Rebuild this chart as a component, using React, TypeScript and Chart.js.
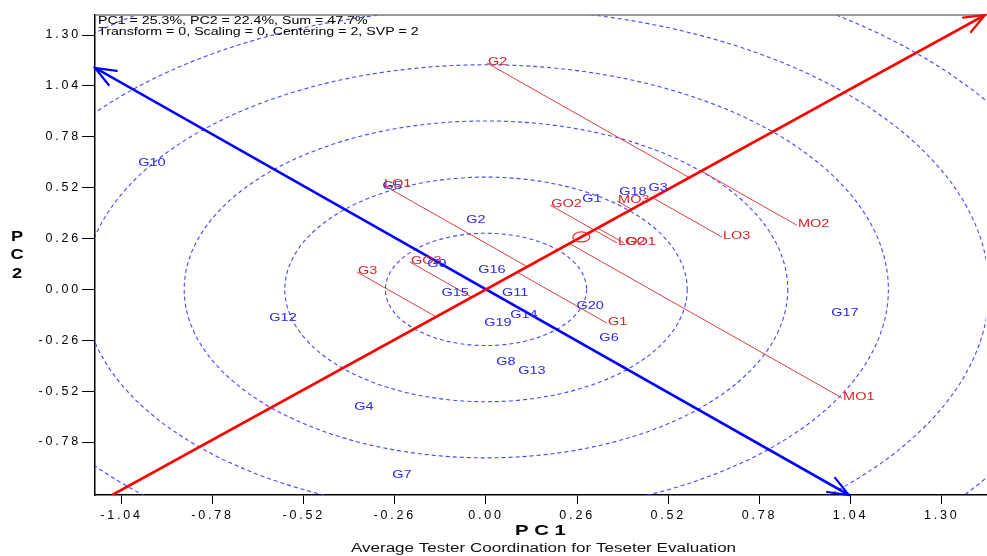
import React, { useEffect, useRef } from "react";
import { Chart, registerables } from "chart.js";

Chart.register(...registerables);

// ---------- data ----------
const xTicks = [-1.04, -0.78, -0.52, -0.26, 0, 0.26, 0.52, 0.78, 1.04, 1.3];
const yTicks = [-0.78, -0.52, -0.26, 0, 0.26, 0.52, 0.78, 1.04, 1.3];
const xRange = [-1.1155, 1.4265];
const yRange = [-1.0507, 1.4024];

const genotypeNames = [
  "G1", "G2", "G3", "G4", "G5", "G6", "G7", "G8", "G9", "G10",
  "G11", "G12", "G13", "G14", "G15", "G16", "G17", "G18", "G19", "G20",
];
const genotypePC1 = [
  0.302, -0.029, 0.491, -0.348, -0.268, 0.351, -0.24, 0.057, -0.14, -0.953,
  0.083, -0.579, 0.131, 0.108, -0.088, 0.017, 1.024, 0.419, 0.034, 0.297,
];
const genotypePC2 = [
  0.462, 0.355, 0.518, -0.601, 0.528, -0.248, -0.948, -0.371, 0.13, 0.646,
  -0.018, -0.146, -0.417, -0.131, -0.018, 0.099, -0.121, 0.498, -0.172, -0.085,
];

const testerNames = ["G2", "LO1", "GO2", "MO3", "LO3", "MO2", "LO2", "GO1", "MO1", "G1", "G3", "GO3"];
const testerPC1 = [0.003, -0.294, 0.183, 0.374, 0.673, 0.887, 0.374, 0.394, 1.016, 0.345, -0.368, -0.217];
const testerPC2 = [1.157, 0.534, 0.431, 0.452, 0.268, 0.328, 0.237, 0.237, -0.555, -0.172, 0.089, 0.14];

const averageTester = [0.272, 0.268];
const ringStep = 0.287;
const ringCount = 7;

const infoLines = [
  "PC1 = 25.3%, PC2 = 22.4%, Sum = 47.7%",
  "Transform = 0, Scaling = 0, Centering = 2, SVP = 2",
];
const xTitle = "P C 1";
const yTitle = "PC2";
const subtitle = "Average Tester Coordination for Teseter Evaluation";

// ---------- styles ----------
const FONT = '"Liberation Sans", Arial, sans-serif';
const RED = "#ff0000";
const BLUE = "#0000ff";
const LABEL_RED = "#d42626";
const LABEL_BLUE = "#2a2ae8";

// ---------- helpers ----------
function project(x: number, y: number) {
  const [ax, ay] = averageTester;
  const d = (x * ax + y * ay) / (ax * ax + ay * ay);
  return { x: d * ax, y: d * ay };
}

function rayLength(dx: number, dy: number) {
  let t = Infinity;
  if (dx > 0) t = Math.min(t, xRange[1] / dx);
  if (dx < 0) t = Math.min(t, xRange[0] / dx);
  if (dy > 0) t = Math.min(t, yRange[1] / dy);
  if (dy < 0) t = Math.min(t, yRange[0] / dy);
  return t;
}

function drawText(
  ctx: CanvasRenderingContext2D,
  text: string,
  x: number,
  y: number,
  font: string,
  color: string,
  align: "left" | "center" | "right",
  sx: number
) {
  ctx.save();
  (ctx as any).letterSpacing = "0px";
  ctx.font = font;
  ctx.fillStyle = color;
  ctx.textBaseline = "middle";
  ctx.textAlign = "left";
  const w = ctx.measureText(text).width * sx;
  const left = align === "left" ? x : align === "center" ? x - w / 2 : x - w;
  ctx.translate(left, y);
  ctx.scale(sx, 1);
  ctx.fillText(text, 0, 0);
  ctx.restore();
}

function arrowHead(
  ctx: CanvasRenderingContext2D,
  tip: { x: number; y: number },
  from: { x: number; y: number },
  color: string
) {
  const ang = Math.atan2(tip.y - from.y, tip.x - from.x);
  const len = 22;
  const spread = 0.38;
  ctx.save();
  ctx.strokeStyle = color;
  ctx.lineWidth = 2.2;
  ctx.lineCap = "round";
  ctx.beginPath();
  ctx.moveTo(tip.x - len * Math.cos(ang - spread), tip.y - len * Math.sin(ang - spread));
  ctx.lineTo(tip.x, tip.y);
  ctx.lineTo(tip.x - len * Math.cos(ang + spread), tip.y - len * Math.sin(ang + spread));
  ctx.stroke();
  ctx.restore();
}

// ---------- datasets ----------
const [ax, ay] = averageTester;
const ataPos = rayLength(ax, ay);
const ataNeg = rayLength(-ax, -ay);
const ataLine = [
  { x: -ataNeg * ax, y: -ataNeg * ay },
  { x: ataPos * ax, y: ataPos * ay },
];
const perpNeg = rayLength(-ay, ax);
const perpPos = rayLength(ay, -ax);
const perpLine = [
  { x: -perpNeg * ay, y: perpNeg * ax },
  { x: perpPos * ay, y: -perpPos * ax },
];

const IDX_GENO = 0;
const IDX_TESTER = 1;
const IDX_AVG = 2;
const IDX_ATA = 3;
const IDX_PERP = 4;

function buildDatasets() {
  const base: any[] = [
    {
      label: "Genotypes",
      data: genotypeNames.map((_, i) => ({ x: genotypePC1[i], y: genotypePC2[i] })),
      pointRadius: 0,
      order: 0,
    },
    {
      label: "Testers",
      data: testerNames.map((_, i) => ({ x: testerPC1[i], y: testerPC2[i] })),
      pointRadius: 0,
      order: 0,
    },
    {
      label: "Average tester",
      data: [{ x: averageTester[0], y: averageTester[1] }],
      pointRadius: 0,
      order: 0,
    },
    {
      label: "ATA",
      data: ataLine,
      showLine: true,
      borderColor: RED,
      borderWidth: 2.6,
      pointRadius: 0,
      order: 1,
    },
    {
      label: "ATA perpendicular",
      data: perpLine,
      showLine: true,
      borderColor: BLUE,
      borderWidth: 2.6,
      pointRadius: 0,
      order: 1,
    },
  ];
  const projections = testerNames.map((n, i) => ({
    label: "proj " + n,
    data: [{ x: testerPC1[i], y: testerPC2[i] }, project(testerPC1[i], testerPC2[i])],
    showLine: true,
    borderColor: "rgba(214,52,52,0.95)",
    borderWidth: 1,
    pointRadius: 0,
    order: 3,
  }));
  return [...base, ...projections];
}

// ---------- plugin ----------
const biplotPlugin = {
  id: "biplotDecor",
  beforeDraw(chart: any) {
    (chart.ctx as any).letterSpacing = "2.8px";
  },
  beforeDatasetsDraw(chart: any) {
    const { ctx, chartArea } = chart;
    const xs = chart.scales.x;
    const ys = chart.scales.y;
    const cx = xs.getPixelForValue(0);
    const cy = ys.getPixelForValue(0);
    ctx.save();
    ctx.beginPath();
    ctx.rect(chartArea.left, chartArea.top, chartArea.right - chartArea.left, chartArea.bottom - chartArea.top);
    ctx.clip();
    ctx.strokeStyle = "rgba(50,50,255,0.9)";
    ctx.lineWidth = 1.1;
    ctx.setLineDash([4, 3]);
    for (let k = 1; k <= ringCount; k++) {
      const r = k * ringStep;
      const rx = Math.abs(xs.getPixelForValue(r) - cx);
      const ry = Math.abs(ys.getPixelForValue(r) - cy);
      ctx.beginPath();
      ctx.ellipse(cx, cy, rx, ry, 0, 0, Math.PI * 2);
      ctx.stroke();
    }
    ctx.restore();
  },
  afterDraw(chart: any) {
    const { ctx, chartArea } = chart;
    (ctx as any).letterSpacing = "0px";

    // frame top
    ctx.save();
    ctx.strokeStyle = "#7a7a7a";
    ctx.lineWidth = 1.5;
    ctx.beginPath();
    ctx.moveTo(chartArea.left, chartArea.top);
    ctx.lineTo(chart.width, chartArea.top);
    ctx.stroke();
    ctx.restore();

    // arrowheads
    const ata = chart.getDatasetMeta(IDX_ATA).data;
    arrowHead(ctx, ata[1], ata[0], RED);
    const perp = chart.getDatasetMeta(IDX_PERP).data;
    arrowHead(ctx, perp[0], perp[1], BLUE);
    arrowHead(ctx, perp[1], perp[0], BLUE);

    // average tester marker
    const avg = chart.getDatasetMeta(IDX_AVG).data[0];
    ctx.save();
    ctx.strokeStyle = "#ff2a2a";
    ctx.lineWidth = 1.2;
    ctx.beginPath();
    ctx.ellipse(avg.x, avg.y, 8.5, 5, 0, 0, Math.PI * 2);
    ctx.stroke();
    ctx.restore();

    // labels
    const labelFont = `10px ${FONT}`;
    chart.getDatasetMeta(IDX_GENO).data.forEach((el: any, i: number) => {
      drawText(ctx, genotypeNames[i], el.x, el.y, labelFont, LABEL_BLUE, "center", 1.45);
    });
    chart.getDatasetMeta(IDX_TESTER).data.forEach((el: any, i: number) => {
      drawText(ctx, testerNames[i], el.x + 1, el.y - 1, labelFont, LABEL_RED, "left", 1.45);
    });

    // info text
    drawText(ctx, infoLines[0], chartArea.left + 3, 21, `10px ${FONT}`, "#000", "left", 1.42);
    drawText(ctx, infoLines[1], chartArea.left + 3, 32, `10px ${FONT}`, "#000", "left", 1.42);

    // axis titles
    const midX = (chartArea.left + chartArea.right) / 2;
    drawText(ctx, xTitle, midX, 531, `bold 14px ${FONT}`, "#000", "center", 1.45);
    drawText(ctx, subtitle, midX + 3, 549, `12px ${FONT}`, "#111", "center", 1.42);
    const letters = yTitle.split("");
    letters.forEach((ch, i) => {
      drawText(ctx, ch, 17, 237 + i * 18.5, `bold 14px ${FONT}`, "#000", "center", 1.3);
    });
  },
};

export default function App() {
  const canvasRef = useRef<HTMLCanvasElement | null>(null);

  useEffect(() => {
    const canvas = canvasRef.current;
    if (!canvas) return;
    const tickFont = { family: FONT, size: 12.5 };
    const chart = new Chart(canvas, {
      type: "scatter",
      data: { datasets: buildDatasets() as any },
      options: {
        animation: false,
        responsive: false,
        devicePixelRatio: 1,
        events: [],
        layout: { padding: { top: 15, right: 1, left: 0, bottom: 0 } },
        plugins: {
          legend: { display: false },
          tooltip: { enabled: false },
          title: { display: false },
        },
        scales: {
          x: {
            type: "linear",
            min: xRange[0],
            max: xRange[1],
            afterBuildTicks: (scale: any) => {
              scale.ticks = xTicks.map((v) => ({ value: v }));
            },
            afterFit: (scale: any) => {
              scale.height = 61;
            },
            ticks: {
              autoSkip: false,
              maxRotation: 0,
              minRotation: 0,
              padding: 4,
              color: "#000",
              font: tickFont,
              callback: (v: any) => Number(v).toFixed(2),
            },
            grid: { drawOnChartArea: false, drawTicks: true, tickLength: 9, color: "#000" },
            border: { display: true, color: "#000", width: 1.5 },
            title: { display: false },
          },
          y: {
            type: "linear",
            min: yRange[0],
            max: yRange[1],
            afterBuildTicks: (scale: any) => {
              scale.ticks = yTicks.map((v) => ({ value: v }));
            },
            afterFit: (scale: any) => {
              scale.width = 95;
            },
            ticks: {
              autoSkip: false,
              padding: 1,
              color: "#000",
              font: tickFont,
              callback: (v: any) => Number(v).toFixed(2),
            },
            grid: { drawOnChartArea: false, drawTicks: true, tickLength: 13, color: "#000" },
            border: { display: true, color: "#000", width: 1.5 },
            title: { display: false },
          },
        },
      } as any,
      plugins: [biplotPlugin],
    });
    return () => chart.destroy();
  }, []);

  return (
    <div style={{ position: "fixed", left: 0, top: 0, width: 987, height: 556, background: "#fff" }}>
      <canvas ref={canvasRef} width={987} height={556} style={{ display: "block", width: 987, height: 556 }} />
    </div>
  );
}
